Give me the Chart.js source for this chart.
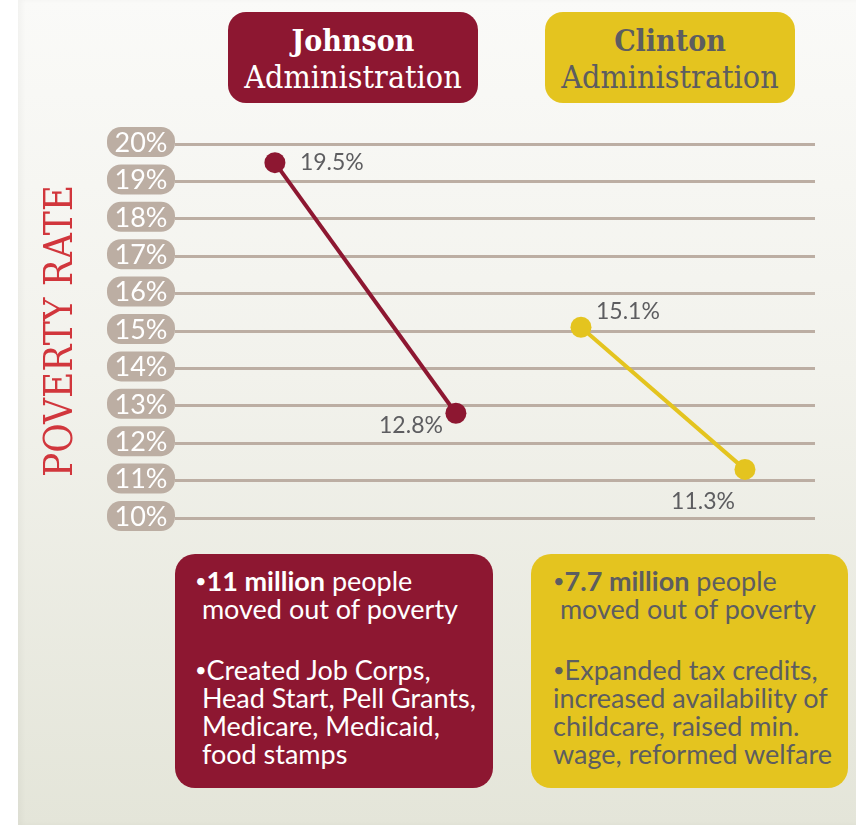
<!DOCTYPE html>
<html>
<head>
<meta charset="utf-8">
<script src="https://cdn.jsdelivr.net/npm/chart.js@4.4.1/dist/chart.umd.min.js"></script>
<style>
  html, body { margin: 0; padding: 0; background: #fff; }
  #stage { position: relative; width: 856px; height: 825px; overflow: hidden; }
  #panel { position: absolute; left: 18px; top: 0; right: 0; bottom: 0;
           background: linear-gradient(#fafaf8, #f2f2ec 45%, #e4e5d9);
           box-shadow: inset 4px 0 5px rgba(0,0,0,0.03); }
  #chart { position: absolute; left: 0; top: 0; }
  .head { position: absolute; top: 12px; width: 250px; height: 91px; border-radius: 18px;
          text-align: center; font-family: "DejaVu Serif Condensed", "DejaVu Serif", serif;
          font-size: 32px; line-height: 36px; box-sizing: border-box; padding-top: 10px; }
  .head b { font-weight: bold; font-size: 30px; }
  .johnson { background: #8d1731; color: #fff; }
  .clinton { background: #e4c41f; color: #5d5d60; }
  .note { position: absolute; top: 554px; height: 234px; width: 318px; border-radius: 20px;
          box-sizing: border-box; padding-top: 12px; font-family: Lato, sans-serif;
          font-size: 27px; line-height: 28px; }
  .note p { margin: 0 0 32px 0; white-space: nowrap; }
  .dot { font-size: 20px; vertical-align: 3px; }
</style>
</head>
<body>
<div id="stage">
  <div id="panel"></div>
  <canvas id="chart" width="856" height="825"></canvas>
  <div class="head johnson" style="left:228px"><b>Johnson</b><br>Administration</div>
  <div class="head clinton" style="left:545px"><b>Clinton</b><br>Administration</div>
  <div class="note johnson" style="left:175px;padding-left:20px">
    <p><span class="dot">•</span><b>11 million</b> people<br>&nbsp;moved out of poverty</p>
    <p><span class="dot">•</span>Created Job Corps,<br>&nbsp;Head Start, Pell Grants,<br>&nbsp;Medicare, Medicaid,<br>&nbsp;food stamps</p>
  </div>
  <div class="note clinton" style="left:531px;width:317px;padding-left:22px">
    <p><span class="dot">•</span><b>7.7 million</b> people<br>&nbsp;moved out of poverty</p>
    <p><span class="dot">•</span>Expanded tax credits,<br>increased availability of<br>childcare, raised min.<br>wage, reformed welfare</p>
  </div>
</div>
<script>
// poverty rate at start and end of each administration
const johnsonYears = [1963, 1968];
const johnsonRates = [19.5, 12.8];
const clintonYears = [1993, 2000];
const clintonRates = [15.1, 11.3];
const rateMin = 10;
const rateMax = 20;

const maroon = "#8d1731";
const gold = "#e4c41f";
const taupe = "#bcaea3";

// where each value label sits relative to its point
const labelPlacement = [
  [{ dx: 25, dy: 0, align: "left" }, { dx: -13, dy: 12, align: "right" }],
  [{ dx: 15, dy: -16, align: "left" }, { dx: -10, dy: 32, align: "right" }],
];

function roundRect(ctx, x, y, w, h, r) {
  ctx.beginPath();
  ctx.moveTo(x + r, y);
  ctx.arcTo(x + w, y, x + w, y + h, r);
  ctx.arcTo(x + w, y + h, x, y + h, r);
  ctx.arcTo(x, y + h, x, y, r);
  ctx.arcTo(x, y, x + w, y, r);
  ctx.closePath();
}

const pillTicks = {
  id: "pillTicks",
  afterDraw(chart) {
    const { ctx, scales } = chart;
    const y = scales.y;
    ctx.save();
    ctx.font = "27px Lato";
    ctx.textAlign = "center";
    ctx.textBaseline = "middle";
    y.ticks.forEach((t) => {
      const py = y.getPixelForValue(t.value) - 2;
      ctx.fillStyle = taupe;
      roundRect(ctx, 107, py - 15, 68, 30, 14);
      ctx.fill();
      ctx.fillStyle = "#fff";
      ctx.fillText(t.value + "%", 141, py + 1);
    });
    ctx.restore();
  },
};

const valueLabels = {
  id: "valueLabels",
  afterDatasetsDraw(chart) {
    const { ctx } = chart;
    ctx.save();
    ctx.font = "23px Lato";
    ctx.fillStyle = "#5d5d60";
    ctx.textBaseline = "middle";
    chart.data.datasets.forEach((ds, i) => {
      chart.getDatasetMeta(i).data.forEach((pt, j) => {
        const p = labelPlacement[i][j];
        ctx.textAlign = p.align;
        ctx.fillText(ds.data[j].y.toFixed(1) + "%", pt.x + p.dx, pt.y + p.dy);
      });
    });
    ctx.restore();
  },
};

new Chart(document.getElementById("chart"), {
  type: "line",
  data: {
    datasets: [
      {
        label: "Johnson",
        data: johnsonYears.map((yr, i) => ({ x: yr, y: johnsonRates[i] })),
        xAxisID: "xJ",
        borderColor: maroon, backgroundColor: maroon,
        borderWidth: 4, pointRadius: 10.5, pointBorderWidth: 0,
      },
      {
        label: "Clinton",
        data: clintonYears.map((yr, i) => ({ x: yr, y: clintonRates[i] })),
        xAxisID: "xC",
        borderColor: gold, backgroundColor: gold,
        borderWidth: 4, pointRadius: 10.5, pointBorderWidth: 0,
      },
    ],
  },
  options: {
    responsive: false,
    animation: false,
    devicePixelRatio: 1,
    layout: { padding: { left: 38, top: 144, right: 41, bottom: 307 } },
    plugins: { legend: { display: false }, tooltip: { enabled: false } },
    scales: {
      xJ: { type: "linear", display: false, min: 1960.24, max: 1977.92 },
      xC: { type: "linear", display: false, min: 1975.67, max: 2002.99 },
      y: {
        min: rateMin, max: rateMax,
        ticks: { stepSize: 1, display: false },
        grid: { color: taupe, lineWidth: 3, drawTicks: false },
        border: { display: false },
        title: {
          display: true, text: "POVERTY RATE", color: "#d1363c",
          font: { family: "DejaVu Serif Condensed", size: 40 },
          padding: { top: 0, bottom: 0 },
        },
        afterFit(scale) { scale.width = 137; },
      },
    },
  },
  plugins: [pillTicks, valueLabels],
});
</script>
</body>
</html>
